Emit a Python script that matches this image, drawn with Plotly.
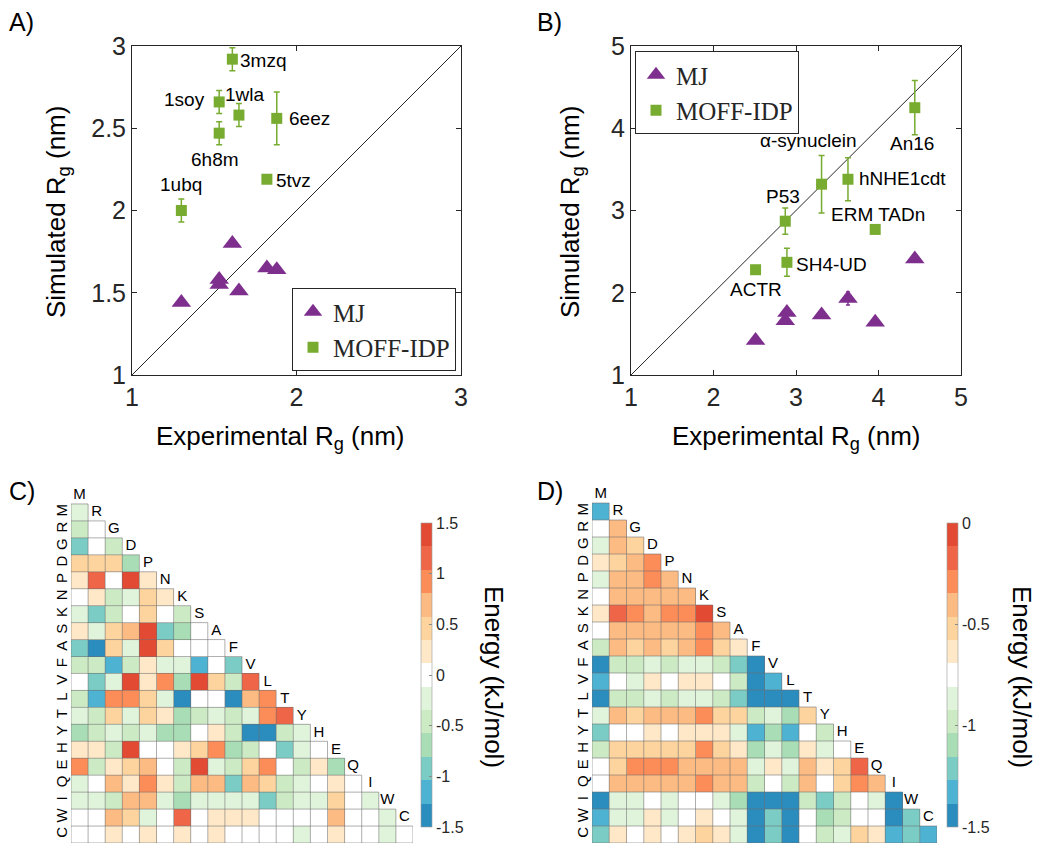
import plotly.graph_objects as go

# ---- panel A: folded proteins ----
PROT_A = ["1ubq", "6h8m", "1soy", "3mzq", "1wla", "5tvz", "6eez"]
EXP_A = [1.30, 1.53, 1.53, 1.61, 1.65, 1.82, 1.88]
MJ_A = [1.44, 1.55, 1.58, 1.80, 1.51, 1.65, 1.64]
MOFF_A = [2.00, 2.47, 2.66, 2.92, 2.58, 2.19, 2.56]
MOFF_A_ERR = [0.07, 0.07, 0.07, 0.07, 0.07, 0.02, 0.16]

# ---- panel B: disordered proteins ----
PROT_B = ["ACTR", "P53", "SH4-UD", "α-synuclein", "hNHE1cdt", "ERM TADn", "An16"]
EXP_B = [2.51, 2.87, 2.89, 3.31, 3.63, 3.96, 4.44]
MJ_B = [1.42, 1.66, 1.76, 1.73, 1.93, 1.64, 2.41]
MJ_B_ERR = [0.01, 0.01, 0.01, 0.01, 0.08, 0.01, 0.01]
MOFF_B = [2.28, 2.87, 2.37, 3.32, 3.38, 2.77, 4.25]
MOFF_B_ERR = [0.02, 0.16, 0.17, 0.35, 0.26, 0.02, 0.33]

RANGE_A = [1, 3]
RANGE_B = [1, 5]

# ---- panels C/D: residue-pair energies (kJ/mol), lower triangle ----
RESIDUES = list("MRGDPNKSAFVLTYHEQIWC")

ENERGY_C = [
    [-0.23],
    [-0.46, 0],
    [-0.92, 0, -0.46],
    [0.46, 0.46, 0.46, -0.69],
    [0.23, 1.15, 0, 1.38, 0.23],
    [0, 0.23, -0.46, -0.23, 0.46, 0.23],
    [-0.23, -0.92, -0.46, 0, 0.46, 0, -0.46],
    [0.23, -0.23, 0.46, 0.69, 1.38, -0.92, -0.69, 0],
    [-0.92, -1.38, 0.46, -0.23, 1.38, 0.46, 0, 0, 0],
    [-0.46, -0.46, -1.15, -0.46, 0.23, -0.23, -0.23, -1.15, 0, -0.92],
    [0, -0.92, -0.23, 1.38, 0.23, 0.92, -0.69, 1.38, 0.46, -0.46, 1.15],
    [-0.46, -1.15, 0.92, 0.92, 0.46, -0.23, -1.38, 0, 0, -1.38, 0.69, 0.92],
    [-0.23, -0.46, 0.46, -0.23, 0.46, 0.23, -0.69, -0.46, -0.23, -0.46, -0.23, 0.92, 1.15],
    [-0.69, -0.46, -0.23, -0.46, -0.23, -0.69, -0.69, 0, 0.23, -0.46, -1.38, -1.38, -0.46, -0.23],
    [0.23, 0.23, -0.46, 1.38, 0, 0, 0.23, 0.46, 0.92, -0.69, -0.46, 0, -0.92, -0.23, 0],
    [0.92, -0.46, 0.23, 0.46, 0.69, 0, -0.46, 1.38, -0.23, -0.46, 0.46, 0.92, 0, -0.46, 0.23, -0.69],
    [-0.23, 0, 0.69, 0.23, 0.92, 0.23, -0.46, 0.69, 0.69, -0.92, 0.69, 0.46, -0.46, -0.23, 0, 0.23, 0],
    [-0.23, -0.23, -0.46, 0.69, 0.69, -0.23, -0.69, -0.23, -0.23, -0.23, -0.23, -0.92, -0.46, -0.23, -0.23, 0.46, 0, -0.23],
    [0, 0, 0.69, 0.46, -0.23, 0, 1.15, 0, 0.23, 0.23, 0.23, 0, 0, 0, 0, 0.69, 0, 0, -0.23],
    [0, 0, 0.23, 0, 0.23, 0, 0.23, 0, 0.23, 0, 0, 0, 0, -0.23, 0, 0.23, 0, 0, -0.23, 0],
]

ENERGY_D = [
    [-1.33],
    [-0.75, -0.40],
    [-0.87, -0.40, -0.52],
    [-0.63, -0.52, -0.40, -0.29],
    [-0.87, -0.40, -0.40, -0.29, -0.40],
    [-0.75, -0.40, -0.40, -0.40, -0.40, -0.40],
    [-0.63, -0.17, -0.29, -0.40, -0.29, -0.29, -0.06],
    [-0.75, -0.40, -0.40, -0.40, -0.40, -0.40, -0.29, -0.40],
    [-0.98, -0.40, -0.52, -0.40, -0.52, -0.40, -0.29, -0.52, -0.63],
    [-1.44, -0.98, -0.98, -0.87, -0.98, -0.87, -0.87, -0.98, -1.21, -1.44],
    [-1.33, -0.75, -0.87, -0.63, -0.75, -0.63, -0.63, -0.75, -0.98, -1.44, -1.33],
    [-1.44, -0.98, -0.98, -0.87, -0.98, -0.87, -0.87, -0.98, -1.21, -1.44, -1.44, -1.44],
    [-0.87, -0.40, -0.52, -0.40, -0.40, -0.40, -0.29, -0.52, -0.52, -0.98, -0.87, -1.10, -0.52],
    [-1.21, -0.75, -0.75, -0.63, -0.75, -0.63, -0.63, -0.63, -0.87, -1.33, -1.10, -1.33, -0.75, -0.98],
    [-0.98, -0.52, -0.52, -0.52, -0.52, -0.52, -0.29, -0.52, -0.63, -1.10, -0.87, -1.10, -0.63, -0.87, -0.75],
    [-0.75, -0.52, -0.29, -0.29, -0.29, -0.40, -0.40, -0.40, -0.40, -0.87, -0.63, -0.87, -0.40, -0.63, -0.52, -0.17],
    [-0.75, -0.40, -0.40, -0.40, -0.40, -0.40, -0.29, -0.40, -0.40, -0.98, -0.75, -0.98, -0.40, -0.75, -0.52, -0.29, -0.40],
    [-1.44, -0.87, -0.87, -0.75, -0.87, -0.75, -0.75, -0.87, -1.10, -1.44, -1.44, -1.44, -0.98, -1.21, -0.98, -0.75, -0.87, -1.44],
    [-1.33, -0.87, -0.87, -0.63, -0.87, -0.75, -0.63, -0.75, -0.87, -1.44, -1.21, -1.44, -0.75, -1.10, -0.98, -0.75, -0.75, -1.44, -1.21],
    [-1.21, -0.63, -0.75, -0.63, -0.75, -0.63, -0.52, -0.63, -0.87, -1.44, -1.21, -1.44, -0.75, -0.98, -0.87, -0.52, -0.63, -1.33, -1.21, -1.33],
]

TICKS_C = [-1.5, -1, -0.5, 0, 0.5, 1, 1.5]
TICKS_D = [-1.5, -1, -0.5, 0]

# 13-step diverging map, low -> high
BIN_COLORS = [
    "#2b8cbe", "#4eb3d3", "#7bccc4", "#a8ddb5", "#ccebc5", "#e0f3db", "#ffffff",
    "#fee8c8", "#fdd49e", "#fdbb84", "#fc8d59", "#ef6548", "#e34a33",
]

PURPLE = "#7e2f8e"
GREEN = "#77ac30"
AX = "#262626"
SANS = "Liberation Sans, Arial, sans-serif"
SERIF = "Liberation Serif, Times New Roman, serif"

# the page body adds an 8px offset, so the figure is a bit smaller than the window
W, H, OFF = 1042, 851, 8


def px(x):
    return (x - OFF) / W


def py(y):
    return 1 - (y - OFF) / H


def dom_x(left, right):
    return [px(left), px(right)]


def dom_y(top, bottom):
    return [py(bottom), py(top)]


# label placement (px): xshift, yshift, xanchor
LABEL_POS_A = {
    "1ubq": (0, 26, "center"), "6h8m": (-4, -26, "center"), "1soy": (-12, 2, "right"),
    "3mzq": (6, -1, "left"), "1wla": (6, 21, "center"), "5tvz": (7, -1, "left"),
    "6eez": (10, 0, "left"),
}
LABEL_POS_B = {
    "ACTR": (0, -20, "center"), "P53": (-2, 25, "center"), "SH4-UD": (7, -2, "left"),
    "α-synuclein": (-13, 44, "center"), "hNHE1cdt": (9, 1, "left"),
    "ERM TADn": (3, 15, "center"), "An16": (-3, -36, "center"),
}


def stepped_scale(colors):
    n = len(colors)
    scale = []
    for k, c in enumerate(colors):
        scale.append([k / n, c])
        scale.append([(k + 1) / n, c])
    return scale


def square_matrix(rows):
    n = len(rows)
    return [list(r) + [None] * (n - len(r)) for r in rows]


def grid_lines(n):
    xs, ys = [], []
    for k in range(n + 1):
        xs += [-0.5, min(k, n - 1) + 0.5, None]
        ys += [k - 0.5, k - 0.5, None]
        xs += [k - 0.5, k - 0.5, None]
        ys += [max(k - 1, 0) - 0.5, n - 0.5, None]
    return xs, ys


fig = go.Figure()

# ---- scatter panels ----
panels = [
    ("x", "y", "legend", RANGE_A, EXP_A, MJ_A, None, MOFF_A, MOFF_A_ERR, PROT_A, LABEL_POS_A),
    ("x2", "y2", "legend2", RANGE_B, EXP_B, MJ_B, MJ_B_ERR, MOFF_B, MOFF_B_ERR, PROT_B, LABEL_POS_B),
]
annotations = []
for xa, ya, leg, rng, exp, mj, mj_err, moff, moff_err, names, pos in panels:
    fig.add_trace(go.Scatter(x=rng, y=rng, mode="lines", line=dict(color=AX, width=1),
                             showlegend=False, hoverinfo="skip", xaxis=xa, yaxis=ya))
    fig.add_trace(go.Scatter(
        x=exp, y=mj, mode="markers", name="MJ", legend=leg, xaxis=xa, yaxis=ya,
        marker=dict(symbol="triangle-up", size=17, color=PURPLE),
        error_y=dict(type="data", array=mj_err, color=PURPLE, thickness=1.5, width=2,
                     visible=mj_err is not None),
    ))
    fig.add_trace(go.Scatter(
        x=exp, y=moff, mode="markers", name="MOFF-IDP", legend=leg, xaxis=xa, yaxis=ya,
        marker=dict(symbol="square", size=11, color=GREEN),
        error_y=dict(type="data", array=moff_err, color=GREEN, thickness=1.5, width=3),
    ))
    for name, xv, yv in zip(names, exp, moff):
        dx, dy, anchor = pos[name]
        annotations.append(dict(x=xv, y=yv, xref=xa, yref=ya, text=name, showarrow=False,
                                xanchor=anchor, yanchor="middle", xshift=dx, yshift=dy,
                                font=dict(family=SANS, size=19, color="black")))

# ---- heatmap panels ----
edge_x, edge_y = grid_lines(len(RESIDUES))
heat = [
    ("x3", "y3", ENERGY_C, -1.5, 1.5, TICKS_C, px(421)),
    ("x4", "y4", ENERGY_D, -1.5, 0, TICKS_D, px(947)),
]
for xa, ya, rows, zmin, zmax, ticks, cbx in heat:
    fig.add_trace(go.Heatmap(
        z=square_matrix(rows), x=list(range(len(RESIDUES))), y=list(range(len(RESIDUES))),
        zmin=zmin, zmax=zmax, colorscale=stepped_scale(BIN_COLORS), hoverongaps=False,
        xaxis=xa, yaxis=ya,
        colorbar=dict(x=cbx, xanchor="left", y=py(675), yanchor="middle", len=304 / H,
                      lenmode="fraction", thickness=11, outlinewidth=0.6, outlinecolor="#999",
                      tickvals=ticks, ticktext=[f"{t:g}" for t in ticks], ticks="inside",
                      ticklen=3, tickcolor="#888", xpad=0, ypad=0,
                      tickfont=dict(family=SANS, size=16, color=AX)),
    ))
    fig.add_trace(go.Scatter(x=edge_x, y=edge_y, mode="lines", xaxis=xa, yaxis=ya,
                             line=dict(color="rgba(110,110,110,0.7)", width=0.8),
                             showlegend=False, hoverinfo="skip"))
    fig.add_trace(go.Scatter(x=list(range(len(RESIDUES))),
                             y=[j - 1 for j in range(len(RESIDUES))],
                             text=RESIDUES, mode="text", xaxis=xa, yaxis=ya, cliponaxis=False,
                             textfont=dict(family=SANS, size=15, color="black"),
                             showlegend=False, hoverinfo="skip"))

# ---- axes ----
scatter_axis = dict(ticks="inside", ticklen=5, tickcolor=AX, mirror="allticks", showline=True,
                    linecolor=AX, linewidth=1, showgrid=False, zeroline=False, automargin=False,
                    tickfont=dict(family=SANS, size=25, color=AX))
heat_x = dict(range=[-0.5, 19.5], showticklabels=False, showgrid=False, zeroline=False,
              showline=False, ticks="", automargin=False)
heat_y = dict(range=[19.5, -1.5], tickvals=list(range(len(RESIDUES))), ticktext=RESIDUES,
              tickangle=-90, showgrid=False, zeroline=False, showline=False, ticks="",
              automargin=False, tickfont=dict(family=SANS, size=15, color="black"))

fig.update_layout(
    template="none",
    width=W, height=H, autosize=False,
    margin=dict(l=0, r=0, t=0, b=0, pad=0, autoexpand=False),
    font=dict(family=SANS, color="black"),
    paper_bgcolor="white", plot_bgcolor="white",
    xaxis=dict(domain=dom_x(132, 461), range=RANGE_A, dtick=1, anchor="y", **scatter_axis),
    yaxis=dict(domain=dom_y(46, 375), range=RANGE_A, dtick=0.5, anchor="x", **scatter_axis),
    xaxis2=dict(domain=dom_x(631, 961), range=RANGE_B, dtick=1, anchor="y2", **scatter_axis),
    yaxis2=dict(domain=dom_y(46, 375), range=RANGE_B, dtick=1, anchor="x2", **scatter_axis),
    xaxis3=dict(domain=dom_x(71, 413), anchor="y3", **heat_x),
    yaxis3=dict(domain=dom_y(487, 843), anchor="x3", **heat_y),
    xaxis4=dict(domain=dom_x(592, 937), anchor="y4", **heat_x),
    yaxis4=dict(domain=dom_y(486, 843), anchor="x4", **heat_y),
    legend=dict(x=px(456), xanchor="right", y=py(371), yanchor="bottom", bgcolor="white",
                bordercolor=AX, borderwidth=1, font=dict(family=SERIF, size=25, color=AX),
                itemwidth=30, tracegroupgap=0),
    legend2=dict(x=px(635), xanchor="left", y=py(51), yanchor="top", bgcolor="white",
                 bordercolor=AX, borderwidth=1, font=dict(family=SERIF, size=25, color=AX),
                 itemwidth=30, tracegroupgap=0),
)

title_font = dict(family=SANS, size=26, color="black")
for x, y, text, angle in [
    (280, 437, "Experimental R<sub>g</sub> (nm)", 0),
    (796, 437, "Experimental R<sub>g</sub> (nm)", 0),
    (57, 212, "Simulated R<sub>g</sub> (nm)", -90),
    (571, 212, "Simulated R<sub>g</sub> (nm)", -90),
]:
    annotations.append(dict(x=px(x), y=py(y), xref="paper", yref="paper", text=text,
                            textangle=angle, showarrow=False, xanchor="center",
                            yanchor="middle", font=title_font))

for x in [494, 1022]:
    annotations.append(dict(x=px(x), y=py(677), xref="paper", yref="paper",
                            text="Energy (kJ/mol)", textangle=90, showarrow=False,
                            xanchor="center", yanchor="middle",
                            font=dict(family=SANS, size=26, color="black")))

for x, y, text in [(7, 22, "A)"), (535, 22, "B)"), (7, 491, "C)"), (535, 491, "D)")]:
    annotations.append(dict(x=px(x), y=py(y), xref="paper", yref="paper", text=text,
                            showarrow=False, xanchor="left", yanchor="middle",
                            font=dict(family=SANS, size=25, color="black")))

fig.update_layout(annotations=annotations)

fig.write_html("out.html")
